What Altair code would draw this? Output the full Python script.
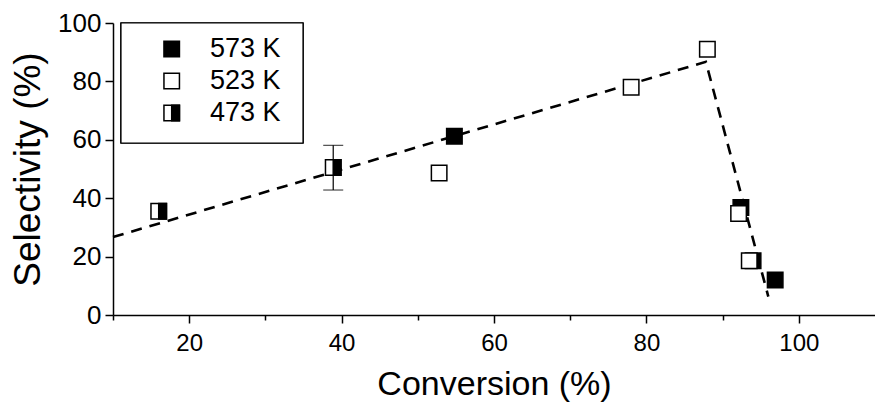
import altair as alt
import pandas as pd

series = ["573 K", "523 K", "473 K"]
x573 = [54.8, 92.4, 94.0, 96.9]
y573 = [61.2, 36.8, 18.6, 12.0]
x523 = [52.8, 78.0, 88.0, 92.1, 93.5]
y523 = [48.6, 78.0, 91.0, 34.8, 18.6]
x473 = [16.0, 38.9]
y473 = [35.5, 50.5]
err_x = [38.9]
err_lo = [42.8]
err_hi = [58.1]
fit_x = [10.0, 87.8, 96.0]
fit_y = [26.7, 86.7, 6.3]
x_ticks = [10, 20, 30, 40, 50, 60, 70, 80, 90, 100]
y_ticks = [0, 10, 20, 30, 40, 50, 60, 70, 80, 90, 100]

FONT = "Liberation Sans"
SIZE = 240
HALF = "M0,-1L1,-1L1,1L0,1Z"

d573 = pd.DataFrame({"x": x573, "y": y573})
d523 = pd.DataFrame({"x": x523, "y": y523})
d473 = pd.DataFrame({"x": x473, "y": y473})
derr = pd.DataFrame({"x": err_x, "lo": err_lo, "hi": err_hi})
dfit = pd.DataFrame({"x": fit_x, "y": fit_y, "o": list(range(len(fit_x)))})

xs = alt.Scale(domain=[10, 110], nice=False, zero=False)
ys = alt.Scale(domain=[0, 100], nice=False, zero=False)

xaxis = alt.Axis(
    values=x_ticks, title="Conversion (%)",
    labelExpr="datum.value % 20 === 0 ? datum.label : ''",
    tickSize={"condition": {"test": "datum.value % 20 !== 0", "value": 5}, "value": 8},
    labelPadding=8, titlePadding=12, labelFontSize=24, titleFontSize=34,
)
yaxis = alt.Axis(
    values=y_ticks, title="Selectivity (%)",
    labelExpr="datum.value % 20 === 0 ? datum.label : ''",
    tickSize={"condition": {"test": "datum.value % 20 !== 0", "value": 5}, "value": 8},
    labelPadding=4, titlePadding=10, labelFontSize=26, titleFontSize=37,
)

X = alt.X("x:Q", scale=xs, axis=xaxis)
Y = alt.Y("y:Q", scale=ys, axis=yaxis)

fit = alt.Chart(dfit).mark_line(color="black", strokeWidth=2.6, strokeDash=[11, 8]).encode(
    x=X, y=Y, order="o:Q")

err_rule = alt.Chart(derr).mark_rule(color="black", strokeWidth=1.2).encode(
    x=alt.X("x:Q", scale=xs), y=alt.Y("lo:Q", scale=ys), y2="hi:Q")
err_lo_t = alt.Chart(derr).mark_tick(color="black", thickness=1.2, size=20, orient="horizontal").encode(
    x=alt.X("x:Q", scale=xs), y=alt.Y("lo:Q", scale=ys))
err_hi_t = alt.Chart(derr).mark_tick(color="black", thickness=1.2, size=20, orient="horizontal").encode(
    x=alt.X("x:Q", scale=xs), y=alt.Y("hi:Q", scale=ys))

p573 = alt.Chart(d573).mark_point(shape="square", filled=True, fill="black", stroke="black",
                                  strokeWidth=1.5, size=SIZE, opacity=1).encode(x=X, y=Y)
p523 = alt.Chart(d523).mark_point(shape="square", filled=True, fill="white", stroke="black",
                                  strokeWidth=1.5, size=SIZE, opacity=1).encode(x=X, y=Y)
p473a = alt.Chart(d473).mark_point(shape="square", filled=True, fill="white", stroke="black",
                                   strokeWidth=1.5, size=SIZE, opacity=1).encode(x=X, y=Y)
p473b = alt.Chart(d473).mark_point(shape=HALF, filled=True, fill="black", stroke="black",
                                   strokeWidth=1.5, size=SIZE, opacity=1).encode(x=X, y=Y)

main = alt.layer(fit, err_rule, err_lo_t, err_hi_t, p573, p523, p473a, p473b)

# legend
dleg = pd.DataFrame({"label": series})
LY = alt.Y("label:N", scale=alt.Scale(domain=series, range=[26, 90], padding=0), axis=None)
box = alt.Chart(dleg).mark_rect(fill="white", stroke="black", strokeWidth=1.2).encode(
    x=alt.value(8), x2=alt.value(190), y=alt.value(0), y2=alt.value(120))
fills = {"573 K": "black", "523 K": "white", "473 K": "white"}
leg_syms = []
for s in series:
    leg_syms.append(alt.Chart(dleg).transform_filter(alt.datum.label == s).mark_point(
        shape="square", filled=True, fill=fills[s], stroke="black", strokeWidth=1.5,
        size=SIZE, opacity=1).encode(x=alt.value(58.7), y=LY))
leg_half = alt.Chart(dleg).transform_filter(alt.datum.label == "473 K").mark_point(
    shape=HALF, filled=True, fill="black", stroke="black", strokeWidth=1.5,
    size=SIZE, opacity=1).encode(x=alt.value(58.7), y=LY)
leg_text = alt.Chart(dleg).mark_text(align="left", baseline="middle", font=FONT,
                                     fontSize=27, color="black").encode(
    x=alt.value(97), y=LY, text="label:N")
legend = alt.layer(box, *leg_syms, leg_half, leg_text)

chart = alt.layer(main, legend).resolve_scale(y="independent").properties(
    width=762, height=292,
    autosize=alt.AutoSizeParams(type="none"),
    padding={"left": 113, "top": 23, "right": 0, "bottom": 90},
    background="white",
).configure_view(stroke=None).configure_axis(
    grid=False, domainColor="black", domainWidth=1.5, tickColor="black", tickWidth=1.5,
    labelFont=FONT, labelColor="black",
    titleFont=FONT, titleFontWeight="normal", titleColor="black",
)

chart.save("out.html", embed_options={"renderer": "svg", "actions": False})
